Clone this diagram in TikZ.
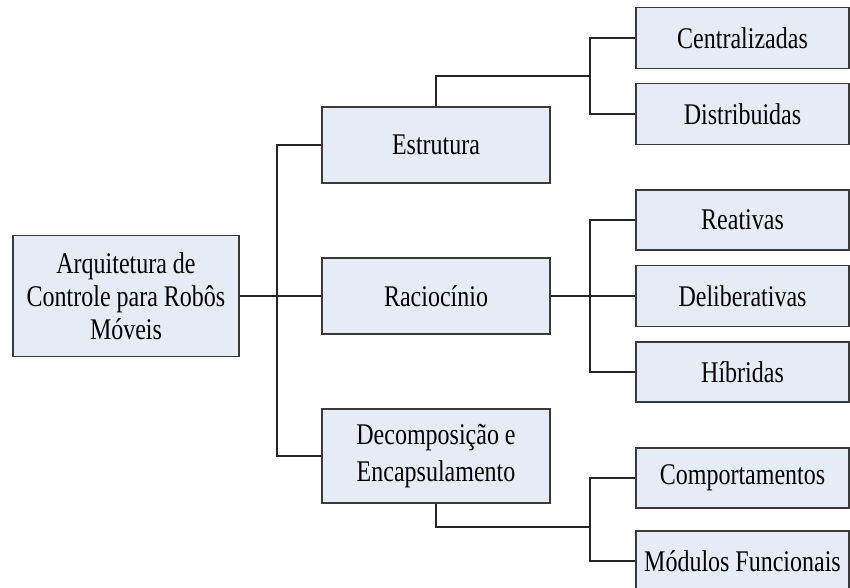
\documentclass[tikz,border=0pt]{standalone}
\usepackage{fontspec}
\setmainfont{Liberation Serif}[FakeStretch=0.80]
\definecolor{boxfill}{HTML}{E6ECF6}
\definecolor{boxline}{HTML}{3A3A3A}
\begin{document}
\begin{tikzpicture}[x=1pt,y=-1pt,
  box/.style={draw=boxline,line width=1.4pt,fill=boxfill,rectangle,inner sep=0pt,align=center,
    font=\fontsize{30}{34}\selectfont},
  conn/.style={draw=black!85,line width=1.3pt}]
\useasboundingbox (0,0) rectangle (850,588);
\clip (0,0) rectangle (850,588);
\node[box,minimum width=226pt,minimum height=121pt,font=\fontsize{30}{33}\selectfont] (root) at (126,296) {Arquitetura de\\Controle para Robôs\\Móveis};
\node[box,minimum width=228pt,minimum height=76pt] (estr) at (436,145) {Estrutura};
\node[box,minimum width=228pt,minimum height=76pt] (rac) at (436,296) {Raciocínio};
\node[box,minimum width=228pt,minimum height=94pt,font=\fontsize{30}{37}\selectfont] (dec) at (436,456) {Decomposição e\\Encapsulamento};
\node[box,minimum width=213pt,minimum height=61pt] (cent) at (742.5,38) {Centralizadas};
\node[box,minimum width=213pt,minimum height=61pt] (dist) at (742.5,114) {Distribuidas};
\node[box,minimum width=213pt,minimum height=60pt] (reat) at (742.5,220) {Reativas};
\node[box,minimum width=213pt,minimum height=61pt] (delib) at (742.5,296) {Deliberativas};
\node[box,minimum width=213pt,minimum height=60pt] (hib) at (742.5,372) {Híbridas};
\node[box,minimum width=213pt,minimum height=60pt] (comp) at (742.5,478) {Comportamentos};
\node[box,minimum width=213pt,minimum height=60pt] (mod) at (742.5,561) {Módulos Funcionais};
\coordinate (t1) at (277,145);
\coordinate (j1) at (590,76);
\coordinate (j2) at (590,296);
\coordinate (j3) at (590,527);
\draw[conn] (root.east) -- (rac.west);
\draw[conn] (estr.west) -- (t1) |- (dec.west);
\draw[conn] (estr.north) |- (j1);
\draw[conn] (cent.west) -| (j1) |- (dist.west);
\draw[conn] (rac.east) -- (delib.west);
\draw[conn] (reat.west) -| (j2) |- (hib.west);
\draw[conn] (dec.south) |- (j3);
\draw[conn] (comp.west) -| (j3) |- (mod.west);
\end{tikzpicture}
\end{document}
